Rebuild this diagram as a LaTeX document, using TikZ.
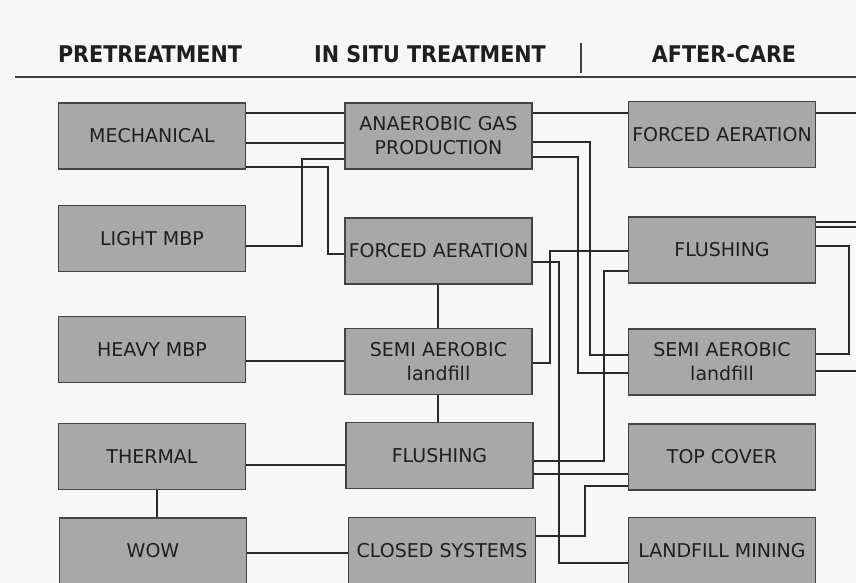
\documentclass[tikz,border=0pt]{standalone}
\usepackage{fontspec}
\setmainfont{DejaVu Sans}
\newfontfamily\headfont{DejaVu Sans Condensed Bold}
\usetikzlibrary{calc}
\definecolor{boxfill}{HTML}{A8A8A8}
\definecolor{boxedge}{HTML}{444444}
\definecolor{wire}{HTML}{2A2A2A}
\definecolor{paper}{HTML}{F7F7F7}
\begin{document}
\begin{tikzpicture}[x=1pt,y=-1pt,
  stagebox/.style={draw=boxedge,line width=1.2pt,fill=boxfill,rectangle,
    minimum width=187pt,minimum height=66pt,inner sep=0pt,align=center,
    font=\fontsize{19}{24}\selectfont,text=black!88},
  heading/.style={font=\headfont\fontsize{23}{26}\selectfont,text=black!88,anchor=base,inner sep=0pt},
  wire/.style={draw=wire,line width=2pt},
  rule/.style={draw=black!75,line width=1.1pt}]
\useasboundingbox (0,0) rectangle (856,583);
\fill[paper] (0,0) rectangle (856,583);

% column headings
\node[heading] (hpre) at (150,63) {PRETREATMENT};
\node[heading] (hsitu) at (430,63) {IN SITU TREATMENT};
\node[heading] (hafter) at (724,63) {AFTER-CARE};
\coordinate (ruleL) at (15,77);
\coordinate (ruleR) at (856,77);
\coordinate (sepT) at (581,43);
\coordinate (sepB) at (581,73);
\draw[rule] (ruleL) -- (ruleR);
\draw[rule] (sepT) -- (sepB);

% pretreatment
\node[stagebox] (mech)    at (152,136)   {MECHANICAL};
\node[stagebox] (light)   at (152,238.5) {LIGHT MBP};
\node[stagebox] (heavy)   at (152,349.5) {HEAVY MBP};
\node[stagebox] (thermal) at (152,456.5) {THERMAL};
\node[stagebox] (wow)     at (153,551)   {WOW};

% in situ treatment
\node[stagebox] (anaer)  at (438.5,136)   {ANAEROBIC GAS\\PRODUCTION};
\node[stagebox] (faer)   at (438.5,251)   {FORCED AERATION};
\node[stagebox] (semi)   at (438.5,361.5) {SEMI AEROBIC\\landfill};
\node[stagebox] (flush)  at (439.5,455.5) {FLUSHING};
\node[stagebox] (closed) at (442,550.5)   {CLOSED SYSTEMS};

% after-care
\node[stagebox] (rfaer)  at (722,134.5) {FORCED AERATION};
\node[stagebox] (rflush) at (722,250)   {FLUSHING};
\node[stagebox] (rsemi)  at (722,362)   {SEMI AEROBIC\\landfill};
\node[stagebox] (topc)   at (722,457)   {TOP COVER};
\node[stagebox] (mining) at (722,550.5) {LANDFILL MINING};

% loose ends leaving to the right
\coordinate (out1) at (860,113);
\coordinate (out2) at (860,222);
\coordinate (out3) at (860,227);
\coordinate (out4) at (860,371);

\begin{scope}[wire]
% pretreatment -> in situ
\draw (mech.east |- 0,113) -- (anaer.west |- 0,113);
\draw (mech.east |- 0,143) -- (anaer.west |- 0,143);
\draw (mech.east |- 0,167) -| (328,210) |- (faer.west |- 0,254);
\draw (light.east |- 0,246) -| (302,200) |- (anaer.west |- 0,159);
\draw (heavy.east |- 0,361) -- (semi.west |- 0,361);
\draw (thermal.east |- 0,465) -- (flush.west |- 0,465);
\draw (wow.east |- 0,553) -- (closed.west |- 0,553);
\draw (thermal.south -| 157,0) -- (wow.north -| 157,0);
% in situ chain
\draw (faer.south -| 438,0) -- (semi.north -| 438,0);
\draw (semi.south -| 438,0) -- (flush.north -| 438,0);
% in situ -> after-care
\draw (anaer.east |- 0,113) -- (rfaer.west |- 0,113);
\draw (anaer.east |- 0,142) -| (590,250) |- (rsemi.west |- 0,355);
\draw (anaer.east |- 0,157) -| (578,250) |- (rsemi.west |- 0,373);
\draw (faer.east |- 0,262) -| (559,400) |- (mining.west |- 0,563);
\draw (semi.east |- 0,363) -| (550,300) |- (rflush.west |- 0,251);
\draw (rflush.west |- 0,271) -| (604,400) |- (flush.east |- 0,461);
\draw (flush.east |- 0,474) -- (topc.west |- 0,474);
\draw (closed.east |- 0,536) -| (585,500) |- (topc.west |- 0,486);
% after-care outputs
\draw (rfaer.east |- 0,113) -- (out1);
\draw (rflush.east |- 0,222) -- (out2);
\draw (rflush.east |- 0,227) -- (out3);
\draw (rflush.east |- 0,246) -| (849,300) |- (rsemi.east |- 0,354);
\draw (rsemi.east |- 0,371) -- (out4);
\end{scope}
\end{tikzpicture}
\end{document}
